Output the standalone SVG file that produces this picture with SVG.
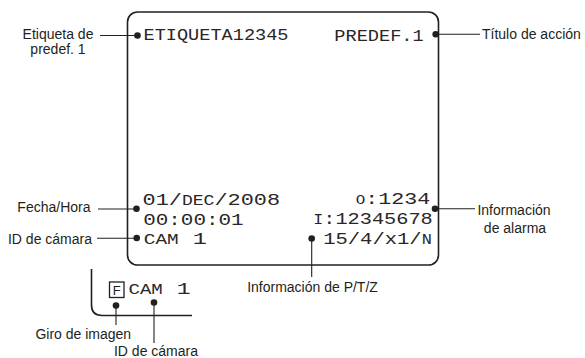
<svg xmlns="http://www.w3.org/2000/svg" width="585" height="358" viewBox="0 0 585 358">
<style>
.lbl{font-family:"Liberation Sans",Arial,sans-serif;font-size:14px;fill:#231f20}
.osd{font-family:"Liberation Mono","Courier New",monospace;font-size:17px;fill:#2a2627}
.sm{font-size:14px}
.frame{fill:none;stroke:#231f20;stroke-width:1.6}
.conn line{stroke:#231f20;stroke-width:1.1}
.conn circle{fill:#231f20}
</style>
<rect width="585" height="358" fill="#ffffff"/>
<g id="screen">
<rect class="frame" x="127.5" y="12" width="311" height="253" rx="10" ry="10"/>
</g>
<g id="screen-flip">
<path class="frame" d="M91.5,269 V305 Q91.5,315.5 102,315.5 H192"/>
<rect x="109.5" y="282" width="14.5" height="15.5" fill="none" stroke="#231f20" stroke-width="1.3"/>
<text class="lbl" x="116.8" y="294.5" text-anchor="middle" style="font-size:13px">F</text>
<text class="osd" x="128.5" y="293.5" textLength="62" lengthAdjust="spacingAndGlyphs"><tspan class="sm">CAM</tspan> 1</text>
</g>
<g id="osd-text">
<text class="osd" x="143.5" y="39.5" textLength="145" lengthAdjust="spacingAndGlyphs">ETIQUETA12345</text>
<text class="osd" x="334.3" y="40.5" textLength="89.4" lengthAdjust="spacingAndGlyphs">PREDEF.1</text>
<text class="osd" x="142.6" y="205" textLength="137.5" lengthAdjust="spacingAndGlyphs">01/<tspan class="sm">DEC</tspan>/2008</text>
<text class="osd" x="143.2" y="224.5" textLength="100.5" lengthAdjust="spacingAndGlyphs">00:00:01</text>
<text class="osd" x="143.8" y="244.3" textLength="63" lengthAdjust="spacingAndGlyphs"><tspan class="sm">CAM</tspan> 1</text>
<text class="osd" x="355.8" y="203.8" textLength="74.4" lengthAdjust="spacingAndGlyphs"><tspan style="font-size:12.5px">O</tspan>:1234</text>
<text class="osd" x="313.2" y="224.3" textLength="119.6" lengthAdjust="spacingAndGlyphs"><tspan class="sm">I</tspan>:12345678</text>
<text class="osd" x="323.2" y="244.3" textLength="108.6" lengthAdjust="spacingAndGlyphs">15/4/x1/<tspan class="sm">N</tspan></text>
</g>
<g id="label-preset">
<text class="lbl" x="58" y="38.5" text-anchor="middle">Etiqueta de</text>
<text class="lbl" x="58" y="54" text-anchor="middle">predef. 1</text>
</g>
<g id="label-action">
<text class="lbl" x="482" y="38.5">Título de acción</text>
</g>
<g id="label-datetime">
<text class="lbl" x="90.5" y="212" text-anchor="end">Fecha/Hora</text>
</g>
<g id="label-camid">
<text class="lbl" x="92" y="243.5" text-anchor="end">ID de cámara</text>
</g>
<g id="label-alarm">
<text class="lbl" x="514" y="215" text-anchor="middle">Información</text>
<text class="lbl" x="515" y="233.3" text-anchor="middle">de alarma</text>
</g>
<g id="label-ptz">
<text class="lbl" x="312.5" y="291.5" text-anchor="middle">Información de P/T/Z</text>
</g>
<g id="label-flip">
<text class="lbl" x="83.3" y="338.5" text-anchor="middle">Giro de imagen</text>
</g>
<g id="label-camid2">
<text class="lbl" x="156" y="355.5" text-anchor="middle">ID de cámara</text>
</g>
<g id="connectors" class="conn">
<line x1="100" y1="35.5" x2="137.5" y2="35.5"/><circle cx="137.5" cy="35.5" r="3.3"/>
<line x1="435.7" y1="34.3" x2="480" y2="34.3"/><circle cx="435.7" cy="34.3" r="3.3"/>
<line x1="98" y1="209" x2="136.5" y2="209"/><circle cx="136.5" cy="208.7" r="3.3"/>
<line x1="97" y1="238.3" x2="136.7" y2="238.3"/><circle cx="136.7" cy="238" r="3.3"/>
<line x1="435" y1="208.8" x2="475" y2="208.8"/><circle cx="435" cy="208.8" r="3.3"/>
<line x1="311.7" y1="238.5" x2="311.7" y2="277"/><circle cx="311.7" cy="238.5" r="3.3"/>
<line x1="116" y1="305.5" x2="116" y2="325"/><circle cx="116" cy="305.5" r="3.3"/>
<line x1="154" y1="302.5" x2="154" y2="343"/><circle cx="154" cy="302.5" r="3.3"/>
</g>
</svg>
